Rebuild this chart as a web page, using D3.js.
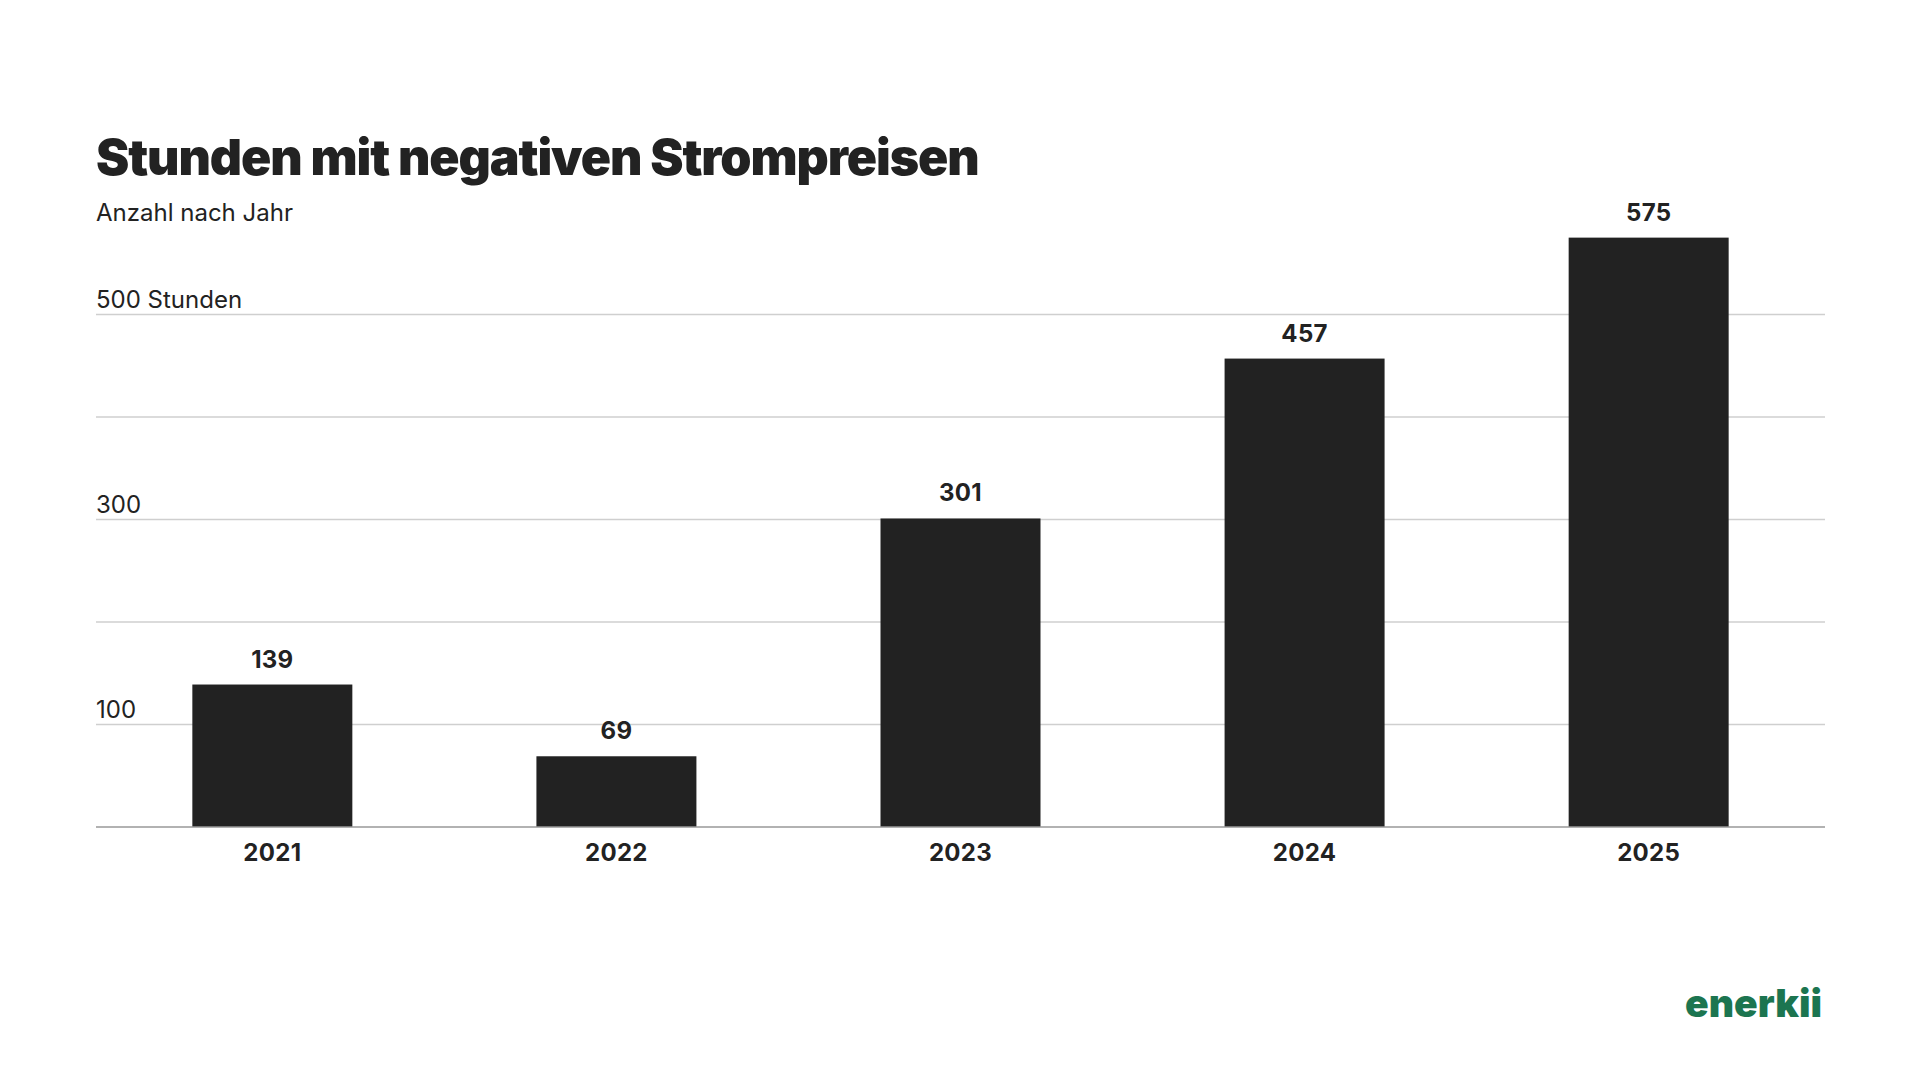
<!DOCTYPE html>
<html>
<head>
<meta charset="utf-8">
<script src="https://cdn.jsdelivr.net/npm/d3@7"></script>
<style>
  html, body { margin: 0; padding: 0; background: #fff; }
  svg { display: block; font-family: Inter, "Noto Sans", sans-serif; }
</style>
</head>
<body>
<svg id="chart" width="1920" height="1080"></svg>
<script>
const years = ["2021", "2022", "2023", "2024", "2025"];
const hours = [139, 69, 301, 457, 575];
const gridValues = [100, 200, 300, 400, 500];
const tickLabels = { 100: "100", 300: "300", 500: "500 Stunden" };

const svg = d3.select("#chart");
const left = 96, right = 1825, baseY = 827, topY = 212;

const x = d3.scaleBand().domain(years).range([left, right]).paddingInner(0.535).paddingOuter(0.28);
const y = d3.scaleLinear().domain([0, 600]).range([baseY, topY]);

// Title
svg.append("text").attr("x", 96).attr("y", 175)
  .attr("font-size", 50).attr("font-weight", 900).attr("fill", "#222")
  .attr("letter-spacing", -1.1)
  .text("Stunden mit negativen Strompreisen");
svg.append("text").attr("x", 96).attr("y", 221)
  .attr("font-size", 24).attr("font-weight", 400).attr("fill", "#222")
  .text("Anzahl nach Jahr");

// Gridlines
svg.append("g").selectAll("line").data(gridValues).join("line")
  .attr("x1", left).attr("x2", right)
  .attr("y1", d => y(d)).attr("y2", d => y(d))
  .attr("stroke", "#cfcfcf").attr("stroke-width", 1.3);

svg.append("g").selectAll("text").data(gridValues.filter(d => tickLabels[d])).join("text")
  .attr("x", left).attr("y", d => y(d) - 7)
  .attr("font-size", 24).attr("fill", "#222")
  .text(d => tickLabels[d]);

// Bars
svg.append("g").selectAll("rect").data(years).join("rect")
  .attr("x", d => x(d)).attr("width", x.bandwidth())
  .attr("y", (d, i) => y(hours[i])).attr("height", (d, i) => baseY - y(hours[i]))
  .attr("fill", "#222");

// Value labels
svg.append("g").selectAll("text").data(years).join("text")
  .attr("x", d => x(d) + x.bandwidth() / 2)
  .attr("y", (d, i) => y(hours[i]) - 17)
  .attr("text-anchor", "middle").attr("font-size", 24).attr("font-weight", 700).attr("fill", "#222")
  .attr("letter-spacing", 0.3)
  .text((d, i) => hours[i]);

// Baseline
svg.append("line").attr("x1", left).attr("x2", right).attr("y1", baseY).attr("y2", baseY)
  .attr("stroke", "#999").attr("stroke-width", 1.5);

// X axis labels
const xAxis = d3.axisBottom(x).tickSize(0).tickPadding(0);
const gx = svg.append("g").attr("transform", `translate(0,${baseY})`).call(xAxis);
gx.select(".domain").remove();
gx.selectAll("text").attr("dy", null).attr("y", 34)
  .attr("font-size", 24).attr("font-weight", 700).attr("fill", "#222")
  .attr("letter-spacing", 0.3)
  .attr("font-family", "Inter, sans-serif");

// Logo
svg.append("text").attr("x", 1822).attr("y", 1017).attr("text-anchor", "end")
  .attr("font-size", 39).attr("font-weight", 900).attr("fill", "#1c7550")
  .text("enerkii");
</script>
</body>
</html>
